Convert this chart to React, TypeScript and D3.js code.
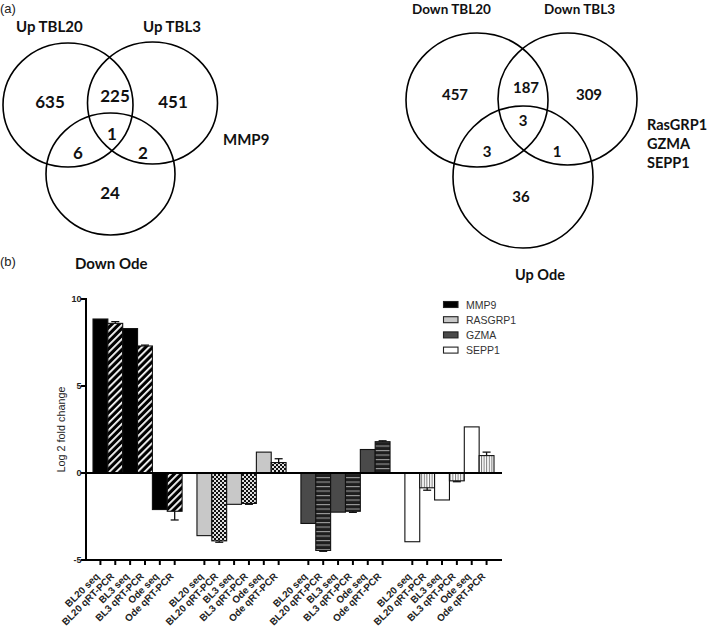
import React from "react";
import * as d3 from "d3";

// ---------- Venn data ----------
const leftVennLabels = ["Up TBL20", "Up TBL3"];
const leftVennCounts = [635, 225, 451, 1, 6, 2, 24]; // A only, AB, B only, ABC, AC, BC, C only
const leftVennSide = ["MMP9"];
const rightVennLabels = ["Down TBL20", "Down TBL3", "Up Ode"];
const rightVennCounts = [457, 187, 309, 3, 3, 1, 36];
const rightVennSide = ["RasGRP1", "GZMA", "SEPP1"];

// ---------- Bar chart data ----------
const genes = ["MMP9", "RASGRP1", "GZMA", "SEPP1"];
const measures = ["BL20 seq", "BL20 qRT-PCR", "BL3 seq", "BL3 qRT-PCR", "Ode seq", "Ode qRT-PCR"];
const mmp9Values = [8.85, 8.6, 8.3, 7.3, -2.1, -2.2];
const rasgrp1Values = [-3.6, -3.9, -1.8, -1.75, 1.2, 0.6];
const gzmaValues = [-2.9, -4.45, -2.25, -2.2, 1.35, 1.8];
const sepp1Values = [-3.95, -0.85, -1.55, -0.45, 2.65, 1.0];
const mmp9Errors = [0, 0.1, 0, 0.05, 0, 0.5];
const rasgrp1Errors = [0, 0.08, 0, 0.05, 0, 0.22];
const gzmaErrors = [0, 0.05, 0, 0.06, 0, 0.05];
const sepp1Errors = [0, 0.14, 0, 0.05, 0, 0.2];
const yTicks = [10, 5, 0, -5];

const allValues = [mmp9Values, rasgrp1Values, gzmaValues, sepp1Values];
const allErrors = [mmp9Errors, rasgrp1Errors, gzmaErrors, sepp1Errors];
const seqColors = ["#000000", "#c8c8c8", "#4a4a4a", "#ffffff"];
const patternIds = ["pDiag", "pCheck", "pHoriz", "pVert"];

const vennFont = "Lato, 'Open Sans', sans-serif";
const arial = "'Liberation Sans', Arial, sans-serif";

function Venn({ ellipses, counts, pos, size }: any) {
  return (
    <g>
      {ellipses.map((e: any, i: number) => (
        <ellipse key={i} cx={e[0]} cy={e[1]} rx={e[2]} ry={e[3]} fill="none" stroke="#000" strokeWidth={1.6} />
      ))}
      {counts.map((c: number, i: number) => (
        <text key={i} x={pos[i][0]} y={pos[i][1]} textAnchor="middle" fontFamily={vennFont} fontWeight={700} fontSize={size} fill="#111">
          {c}
        </text>
      ))}
    </g>
  );
}

export default function App() {
  const nSlots = genes.length * 7 - 1;
  const x = d3.scaleBand<number>().domain(d3.range(nSlots)).range([93, 494]).padding(0);
  const y = d3.scaleLinear().domain([-5, 10]).range([560, 299]);
  const bw = x.bandwidth();
  const y0 = y(0);
  const axisLeft = 86;
  const axisRight = 502;

  const bars: any[] = [];
  genes.forEach((g, gi) => {
    measures.forEach((m, mi) => {
      const slot = gi * 7 + mi;
      bars.push({ g, gi, m, mi, slot, v: allValues[gi][mi], e: allErrors[gi][mi] });
    });
  });

  const leftEll = [
    [68, 105, 65, 62],
    [152.5, 103, 65, 61],
    [110.5, 174, 64.5, 61],
  ];
  const leftPos = [
    [50, 108], [115, 102], [173, 108], [112, 140], [78, 159], [143, 159], [110, 199],
  ];
  const rightEll = [
    [477, 100, 71, 67],
    [567.5, 99, 69.5, 66],
    [523, 177, 70, 71],
  ];
  const rightPos = [
    [455, 100], [526, 93], [589, 100], [523, 126], [487, 157], [557, 157], [521, 202],
  ];

  return (
    <svg width={709} height={631} style={{ position: "absolute", left: 0, top: 0, background: "#fff" }}>
      <defs>
        <pattern id="pDiag" width={5} height={5} patternUnits="userSpaceOnUse" patternTransform="rotate(45)">
          <rect width={5} height={5} fill="#000" />
          <rect x={0} y={0} width={1.8} height={5} fill="#fff" />
        </pattern>
        <pattern id="pCheck" width={4} height={4} patternUnits="userSpaceOnUse">
          <rect width={4} height={4} fill="#e0e0e0" />
          <rect x={0} y={0} width={2} height={2} fill="#111" />
          <rect x={2} y={2} width={2} height={2} fill="#111" />
        </pattern>
        <pattern id="pHoriz" width={5} height={4.5} patternUnits="userSpaceOnUse">
          <rect width={5} height={4.5} fill="#1e1e1e" />
          <rect x={0} y={0} width={5} height={1.1} fill="#9a9a9a" />
        </pattern>
        <pattern id="pVert" width={2.6} height={5} patternUnits="userSpaceOnUse">
          <rect width={2.6} height={5} fill="#fff" />
          <rect x={0} y={0} width={1} height={5} fill="#777" />
        </pattern>
      </defs>

      {/* panel labels */}
      <text x={0} y={13} fontFamily={arial} fontSize={13} fill="#222">(a)</text>
      <text x={0} y={266} fontFamily={arial} fontSize={13} fill="#222">(b)</text>

      {/* Left Venn */}
      <text x={16} y={32} fontFamily={vennFont} fontWeight={700} fontSize={15} fill="#111">{leftVennLabels[0]}</text>
      <text x={143} y={32} fontFamily={vennFont} fontWeight={700} fontSize={15} fill="#111">{leftVennLabels[1]}</text>
      <Venn ellipses={leftEll} counts={leftVennCounts} pos={leftPos} size={17} />
      <text x={223} y={145} fontFamily={vennFont} fontWeight={700} fontSize={15} fill="#111">{leftVennSide[0]}</text>
      <text x={75} y={269} fontFamily={vennFont} fontWeight={700} fontSize={15} fill="#111">Down Ode</text>

      {/* Right Venn */}
      <text x={412} y={14} fontFamily={vennFont} fontWeight={700} fontSize={13.5} fill="#111">{rightVennLabels[0]}</text>
      <text x={544} y={14} fontFamily={vennFont} fontWeight={700} fontSize={13.5} fill="#111">{rightVennLabels[1]}</text>
      <Venn ellipses={rightEll} counts={rightVennCounts} pos={rightPos} size={15} />
      {rightVennSide.map((s, i) => (
        <text key={s} x={647} y={130 + i * 19} fontFamily={vennFont} fontWeight={700} fontSize={14.5} fill="#111">{s}</text>
      ))}
      <text x={540} y={280} textAnchor="middle" fontFamily={vennFont} fontWeight={700} fontSize={14.5} fill="#111">{rightVennLabels[2]}</text>

      {/* Bars */}
      {bars.map((b, i) => {
        const yv = y(b.v);
        return (
          <rect
            key={i}
            x={x(b.slot)}
            y={Math.min(yv, y0)}
            width={bw}
            height={Math.abs(yv - y0)}
            fill={b.mi % 2 === 0 ? seqColors[b.gi] : `url(#${patternIds[b.gi]})`}
            stroke="#111"
            strokeWidth={1.1}
          />
        );
      })}
      {/* Error bars */}
      {bars.filter((b) => b.e > 0).map((b, i) => {
        const cx = (x(b.slot) as number) + bw / 2;
        const sign = b.v >= 0 ? 1 : -1;
        const ye = y(b.v + sign * b.e);
        return (
          <g key={i} stroke="#111" strokeWidth={1.3}>
            <line x1={cx} x2={cx} y1={y(b.v)} y2={ye} />
            <line x1={cx - 4} x2={cx + 4} y1={ye} y2={ye} />
          </g>
        );
      })}

      {/* zero line */}
      <line x1={axisLeft} x2={axisRight} y1={y0} y2={y0} stroke="#000" strokeWidth={2} />

      {/* y axis */}
      <line x1={axisLeft} x2={axisLeft} y1={y(10) - 1} y2={y(-5) + 1} stroke="#000" strokeWidth={2} />
      {yTicks.map((t) => (
        <g key={t}>
          <line x1={axisLeft - 5} x2={axisLeft} y1={y(t)} y2={y(t)} stroke="#000" strokeWidth={2} />
          <text x={axisLeft - 4.5} y={y(t) + 3.2} textAnchor="end" fontFamily={arial} fontWeight={700} fontSize={9} fill="#222">{t}</text>
        </g>
      ))}
      <text
        transform={`translate(65, ${(y(10) + y(-5)) / 2}) rotate(-90)`}
        textAnchor="middle"
        fontFamily={arial}
        fontSize={10.8}
        fill="#222"
      >
        Log 2 fold change
      </text>

      {/* x axis */}
      <line x1={axisLeft} x2={axisRight} y1={y(-5)} y2={y(-5)} stroke="#000" strokeWidth={2} />
      {bars.map((b, i) => {
        const cx = (x(b.slot) as number) + bw / 2;
        return (
          <g key={i}>
            <line x1={cx} x2={cx} y1={y(-5)} y2={y(-5) + 5} stroke="#000" strokeWidth={2} />
            <text
              transform={`translate(${cx - 0.5},${y(-5) + 17}) rotate(-45)`}
              textAnchor="end"
              fontFamily={arial}
              fontWeight={700}
              fontSize={9.8}
              fill="#222"
            >
              {b.m}
            </text>
          </g>
        );
      })}

      {/* legend */}
      {genes.map((g, gi) => (
        <g key={g}>
          <rect x={443.5} y={301.5 + gi * 15.2} width={14.5} height={6} fill={seqColors[gi]} stroke="#222" strokeWidth={1.1} />
          <text x={466} y={308.5 + gi * 15.2} fontFamily={arial} fontSize={10.5} fill="#333">{g}</text>
        </g>
      ))}
    </svg>
  );
}
